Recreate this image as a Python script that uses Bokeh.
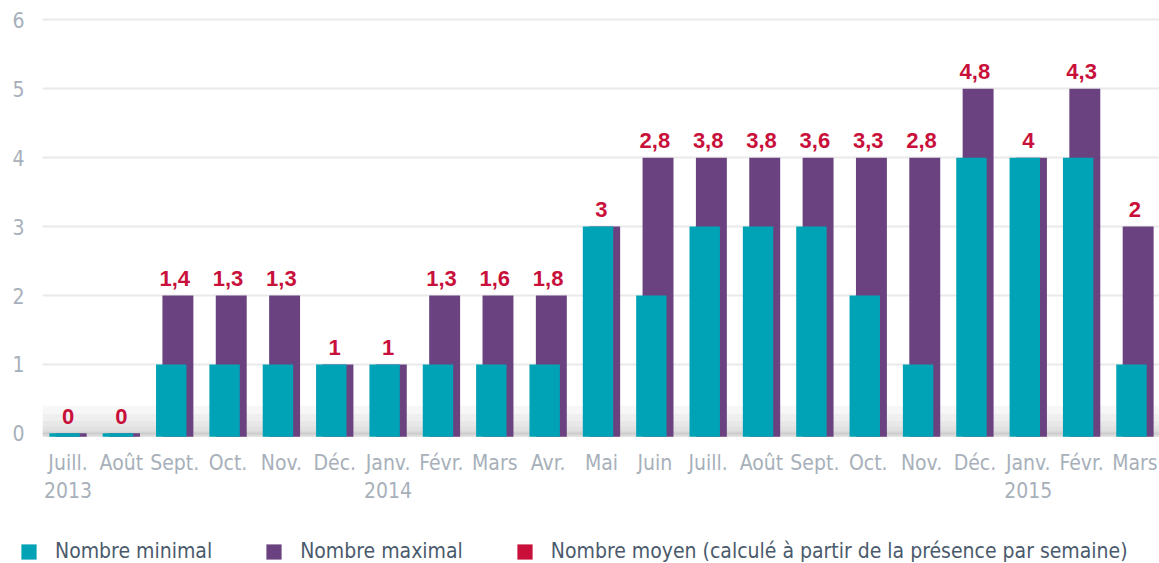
from bokeh.plotting import figure
from bokeh.layouts import column, row
from bokeh.models import ColumnDataSource, FixedTicker, Legend, LegendItem
from bokeh.core.properties import value
from bokeh.embed import file_html
from bokeh.resources import INLINE

months = ["Juill.\n2013", "Août", "Sept.", "Oct.", "Nov.", "Déc.", "Janv.\n2014", "Févr.", "Mars",
          "Avr.", "Mai", "Juin", "Juill.", "Août", "Sept.", "Oct.", "Nov.", "Déc.", "Janv.\n2015",
          "Févr.", "Mars"]
min_vals = [0, 0, 1, 1, 1, 1, 1, 1, 1, 1, 3, 2, 3, 3, 3, 2, 1, 4, 4, 4, 1]
max_vals = [0, 0, 2, 2, 2, 1, 1, 2, 2, 2, 3, 4, 4, 4, 4, 4, 4, 5, 4, 5, 3]
mean_vals = [0, 0, 1.4, 1.3, 1.3, 1, 1, 1.3, 1.6, 1.8, 3, 2.8, 3.8, 3.8, 3.6, 3.3, 2.8, 4.8, 4, 4.3, 2]
y_ticks = [0, 1, 2, 3, 4, 5, 6]

TEAL = "#00a3b5"
PURPLE = "#6a4280"
CRIMSON = "#c8103a"
GRAY = "#a7b0ba"
FONT = "DejaVu Sans Condensed"
X0, X1 = -0.478, 20.46

idx = list(range(len(months)))
src = ColumnDataSource(dict(
    x=idx,
    x_min=[i - 0.065 for i in idx],
    x_max=[i + 0.06 for i in idx],
    min_v=min_vals,
    max_v=max_vals,
    mean_lbl=[str(v).replace(".", ",") for v in mean_vals],
    lbl_y=max_vals,
))

p = figure(width=1159, height=533, output_backend="svg", toolbar_location=None,
           x_range=(X0, X1), y_range=(-0.06, 6.164),
           min_border_left=42, min_border_right=0, min_border_top=8, min_border_bottom=96)
p.outline_line_color = None

# soft shadow along the baseline (stacked translucent bands, clipped to the frame)
shadow_tops = [0.4, 0.28, 0.18, 0.1, 0.04]
p.quad(left=X0, right=X1, bottom=-0.05, top=shadow_tops, fill_color="#9a9a9a",
       fill_alpha=0.08, line_color=None)

r_max = p.vbar(x="x_max", top="max_v", bottom=-0.05, width=0.58, source=src,
               fill_color=PURPLE, line_color=None)
r_min = p.vbar(x="x_min", top="min_v", bottom=-0.05, width=0.57, source=src,
               fill_color=TEAL, line_color=None)

p.text(x="x", y="lbl_y", text="mean_lbl", source=src, text_align="center",
       text_baseline="middle", y_offset=-17, text_color=CRIMSON,
       text_font=value("Liberation Sans"), text_font_style="bold", text_font_size="22px")

p.xgrid.grid_line_color = None
p.ygrid.grid_line_color = "#e9e9e9"
p.ygrid.grid_line_width = 2
p.yaxis.ticker = FixedTicker(ticks=y_ticks)
p.xaxis.ticker = FixedTicker(ticks=idx)
p.xaxis.major_label_overrides = {i: m for i, m in enumerate(months)}

for ax in (p.xaxis[0], p.yaxis[0]):
    ax.axis_line_color = None
    ax.major_tick_line_color = None
    ax.minor_tick_line_color = None
    ax.major_tick_out = 0
    ax.major_tick_in = 0
    ax.major_label_text_color = GRAY
    ax.major_label_text_font = FONT
    ax.major_label_text_font_size = "21px"
p.xaxis.major_label_standoff = 13
p.yaxis.major_label_standoff = 18

# legend strip (keys are zero-width bars, invisible in the strip itself)
q = figure(width=1159, height=30, output_backend="svg", toolbar_location=None,
           x_range=(X0, X1), y_range=(0, 1), x_axis_location=None, y_axis_location=None,
           min_border=0)
q.outline_line_color = None
q.grid.visible = False
l_min = q.vbar(x="x", top="min_v", bottom="min_v", width=0, source=src,
               fill_color=TEAL, line_color=None)
l_max = q.vbar(x="x", top="max_v", bottom="max_v", width=0, source=src,
               fill_color=PURPLE, line_color=None)
l_mean = q.vbar(x="x", top="lbl_y", bottom="lbl_y", width=0, source=src,
                fill_color=CRIMSON, line_color=None)

legend = Legend(items=[
    LegendItem(label="Nombre minimal", renderers=[l_min]),
    LegendItem(label="Nombre maximal", renderers=[l_max]),
    LegendItem(label="Nombre moyen (calculé à partir de la présence par semaine)", renderers=[l_mean]),
], orientation="horizontal", location=(19, 0))
legend.glyph_width = 19
legend.glyph_height = 19
legend.label_standoff = 17
legend.spacing = 52
legend.padding = 0
legend.margin = 0
legend.border_line_color = None
legend.background_fill_alpha = 0
legend.label_text_font = FONT
legend.label_text_font_size = "21px"
legend.label_text_color = "#4a5a6c"
q.add_layout(legend, "center")

layout = column(p, row(q), spacing=0)
open("out.html", "w").write(file_html(layout, INLINE))
